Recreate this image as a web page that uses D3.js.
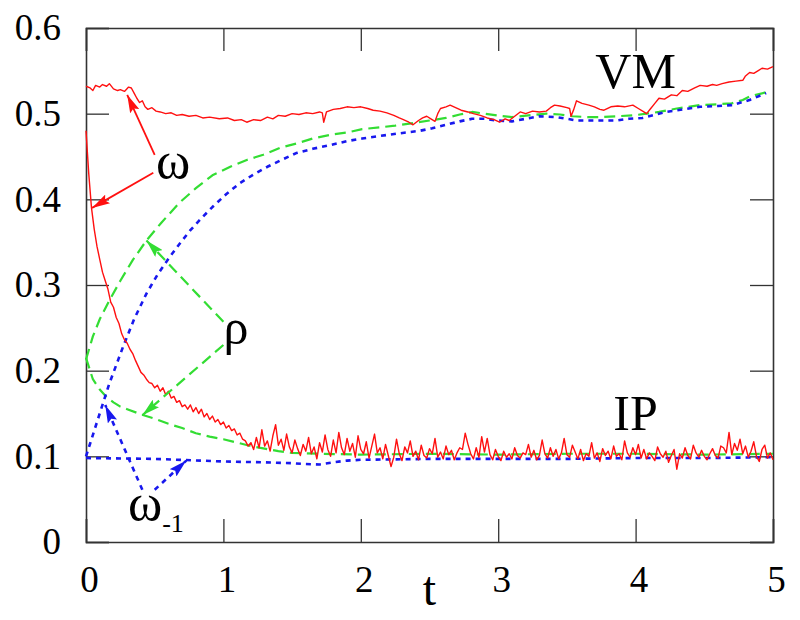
<!DOCTYPE html>
<html><head><meta charset="utf-8">
<script src="https://cdn.jsdelivr.net/npm/d3@7"></script>
<style>body{margin:0;background:#fff}svg{display:block}</style>
</head><body><svg id="c" width="800" height="620"></svg>
<script>
// ---------- data ----------
const xTicks = [0,1,2,3,4,5];
const yTicks = [0,0.1,0.2,0.3,0.4,0.5,0.6];
const yTickLabels = ["0","0.1","0.2","0.3","0.4","0.5","0.6"];

// VM: omega (red, noisy)
const vmOmegaT = [0.00,0.03,0.05,0.07,0.10,0.12,0.15,0.17,0.20,0.23,0.25,0.28,0.31,0.33,0.35,0.37,0.39,0.41,0.43,0.45,0.48,0.51,0.54,0.58,0.62,0.66,0.70,0.75,0.80,0.85,0.90,0.97,1.03,1.08,1.13,1.17,1.22,1.27,1.32,1.36,1.40,1.45,1.50,1.55,1.60,1.65,1.70,1.72,1.73,1.75,1.80,1.85,1.90,1.95,2.00,2.05,2.09,2.14,2.19,2.24,2.28,2.31,2.35,2.38,2.42,2.45,2.48,2.51,2.54,2.56,2.58,2.62,2.65,2.69,2.73,2.78,2.82,2.87,2.92,2.97,3.01,3.05,3.08,3.12,3.16,3.20,3.25,3.30,3.35,3.38,3.41,3.45,3.50,3.52,3.53,3.55,3.57,3.61,3.66,3.70,3.74,3.77,3.82,3.87,3.92,3.98,4.02,4.06,4.08,4.11,4.14,4.17,4.21,4.26,4.30,4.34,4.38,4.43,4.47,4.52,4.56,4.59,4.63,4.68,4.73,4.78,4.80,4.83,4.86,4.89,4.92,4.96,5.00];
const vmOmega = [0.532,0.530,0.527,0.533,0.531,0.534,0.532,0.535,0.529,0.527,0.528,0.526,0.531,0.530,0.524,0.518,0.513,0.515,0.508,0.505,0.507,0.503,0.502,0.500,0.501,0.498,0.499,0.497,0.498,0.495,0.496,0.494,0.495,0.492,0.493,0.490,0.493,0.492,0.496,0.494,0.498,0.497,0.500,0.499,0.501,0.500,0.502,0.501,0.490,0.502,0.505,0.506,0.508,0.507,0.508,0.506,0.504,0.503,0.501,0.498,0.495,0.493,0.490,0.487,0.492,0.495,0.497,0.494,0.491,0.500,0.506,0.508,0.510,0.507,0.504,0.502,0.500,0.498,0.495,0.493,0.490,0.494,0.492,0.497,0.502,0.500,0.503,0.502,0.503,0.507,0.510,0.509,0.507,0.506,0.497,0.505,0.515,0.512,0.510,0.508,0.505,0.504,0.508,0.509,0.508,0.510,0.506,0.502,0.500,0.506,0.512,0.518,0.517,0.522,0.521,0.527,0.526,0.530,0.533,0.532,0.534,0.533,0.535,0.537,0.538,0.539,0.544,0.548,0.547,0.550,0.553,0.552,0.555];

// VM: rho (green dashed)
const vmRhoT = [0,0.05,0.10,0.17,0.25,0.34,0.44,0.55,0.68,0.80,0.92,1.05,1.17,1.29,1.41,1.55,1.65,1.80,1.90,2.01,2.14,2.25,2.38,2.50,2.62,2.72,2.81,2.90,2.99,3.10,3.22,3.35,3.45,3.54,3.65,3.74,3.86,3.98,4.08,4.17,4.30,4.47,4.60,4.70,4.78,4.83,4.95];
const vmRho = [0.213,0.240,0.260,0.282,0.305,0.329,0.352,0.373,0.396,0.413,0.428,0.438,0.446,0.452,0.460,0.466,0.471,0.476,0.478,0.482,0.484,0.486,0.489,0.492,0.495,0.499,0.502,0.500,0.498,0.496,0.498,0.500,0.499,0.497,0.496,0.496,0.497,0.498,0.500,0.502,0.506,0.510,0.511,0.512,0.516,0.520,0.525];

// VM: omega_-1 (blue dotted)
const vmOmM1T = [0,0.03,0.10,0.17,0.27,0.35,0.44,0.52,0.61,0.70,0.76,0.84,0.92,1.02,1.12,1.22,1.32,1.41,1.53,1.65,1.77,1.90,2.01,2.14,2.28,2.43,2.52,2.62,2.72,2.81,2.90,2.99,3.10,3.20,3.30,3.42,3.50,3.57,3.70,3.86,3.95,4.05,4.15,4.22,4.35,4.47,4.60,4.70,4.83,4.95];
const vmOmM1 = [0.100,0.115,0.150,0.185,0.228,0.260,0.290,0.312,0.333,0.352,0.364,0.378,0.391,0.406,0.419,0.429,0.438,0.445,0.454,0.459,0.463,0.468,0.471,0.474,0.477,0.480,0.483,0.487,0.491,0.494,0.494,0.492,0.491,0.494,0.497,0.496,0.494,0.492,0.492,0.492,0.494,0.495,0.499,0.502,0.505,0.508,0.509,0.510,0.516,0.524];

// IP: omega (red, noisy) on a 0.02 grid in t
const ipOmegaStep = 0.02;
const ipOmega = [
0.480,0.430,0.390,0.365,0.345,0.330,0.315,0.305,0.295,0.280,
0.274,0.262,0.255,0.243,0.236,0.232,0.225,0.220,0.212,0.205,
0.198,0.195,0.190,0.186,0.185,0.180,0.183,0.176,0.180,0.172,
0.176,0.168,0.170,0.163,0.165,0.158,0.160,0.155,0.160,0.152,
0.157,0.150,0.155,0.146,0.150,0.143,0.147,0.140,0.143,0.137,
0.140,0.133,0.136,0.130,0.132,0.125,0.127,0.120,0.118,0.112,
0.116,0.108,0.122,0.110,0.131,0.112,0.118,0.106,0.124,0.137,
0.113,0.120,0.107,0.126,0.111,0.104,0.119,0.109,0.101,0.114,
0.106,0.122,0.103,0.111,0.097,0.116,0.105,0.125,0.108,0.100,
0.119,0.104,0.128,0.110,0.102,0.121,0.106,0.115,0.099,0.124,
0.108,0.103,0.117,0.098,0.112,0.126,0.104,0.110,0.097,0.114,
0.101,0.088,0.099,0.120,0.103,0.095,0.111,0.104,0.118,0.100,
0.106,0.096,0.113,0.101,0.098,0.109,0.103,0.121,0.099,0.105,
0.097,0.112,0.102,0.107,0.096,0.104,0.110,0.108,0.127,0.114,
0.103,0.097,0.110,0.099,0.123,0.105,0.121,0.102,0.096,0.108,
0.100,0.095,0.106,0.099,0.103,0.097,0.110,0.101,0.098,0.104,
0.102,0.114,0.099,0.107,0.096,0.101,0.119,0.103,0.098,0.110,
0.100,0.108,0.097,0.104,0.121,0.102,0.099,0.113,0.105,0.097,
0.108,0.095,0.103,0.100,0.116,0.098,0.104,0.094,0.109,0.101,
0.106,0.097,0.112,0.100,0.103,0.096,0.118,0.104,0.099,0.110,
0.102,0.114,0.098,0.108,0.097,0.104,0.100,0.095,0.111,0.103,
0.099,0.106,0.093,0.101,0.108,0.085,0.103,0.098,0.110,0.101,
0.097,0.113,0.104,0.099,0.107,0.100,0.096,0.103,0.109,0.101,
0.098,0.112,0.110,0.104,0.128,0.102,0.115,0.107,0.120,0.103,
0.112,0.099,0.106,0.117,0.100,0.094,0.108,0.113,0.098,0.104,
0.096];

// IP: rho (green dashed)
const ipRhoT = [0,0.05,0.10,0.15,0.20,0.25,0.30,0.40,0.50,0.60,0.70,0.80,0.90,1.00,1.10,1.20,1.30,1.40,1.50,1.70,2.00,2.50,3.00,3.50,4.00,4.50,5.00];
const ipRho = [0.215,0.190,0.178,0.169,0.163,0.158,0.155,0.149,0.144,0.138,0.133,0.127,0.123,0.120,0.116,0.112,0.109,0.106,0.104,0.103,0.102,0.103,0.102,0.103,0.103,0.102,0.103];

// IP: omega_-1 (blue dotted)
const ipOmM1T = [0,0.5,1.0,1.3,1.5,1.6,1.7,1.8,1.9,2.0,2.5,3.0,3.5,4.0,4.5,5.0];
const ipOmM1 = [0.098,0.097,0.094,0.093,0.092,0.091,0.0905,0.093,0.095,0.096,0.097,0.097,0.097,0.098,0.098,0.099];

// annotation arrows [tFrom, vFrom, tTo, vTo]
const omegaArrows = [[0.50,0.452,0.30,0.522],[0.49,0.431,0.044,0.390]];
const rhoArrows = [[1.00,0.257,0.44,0.352],[1.00,0.230,0.41,0.148]];
const omM1Arrows = [[0.41,0.061,0.14,0.160],[0.50,0.061,0.73,0.095]];

// ---------- chart ----------
const svg = d3.select("#c");
const font = "'Liberation Serif','Times New Roman',serif";
const RED = "#ff1010", GREEN = "#33dd33", BLUE = "#1818ee";
const xS = d3.scaleLinear().domain([0,5]).range([86,773]);
const yS = d3.scaleLinear().domain([0,0.6]).range([542,28]);

// markers
const defs = svg.append("defs");
[["aR",RED],["aG",GREEN],["aB",BLUE]].forEach(([id,c])=>{
  defs.append("marker").attr("id",id).attr("markerUnits","userSpaceOnUse")
    .attr("viewBox","0 0 18 10").attr("refX",18).attr("refY",5)
    .attr("markerWidth",18).attr("markerHeight",10).attr("orient","auto")
    .append("path").attr("d","M0,0 L18,5 L0,10 L3,5 Z").attr("fill",c);
});

// axes
const tickLen = 23;
const axG = svg.append("g");
const axBottom = axG.append("g").attr("transform",`translate(0,${yS(0)})`)
  .call(d3.axisBottom(xS).tickValues(xTicks).tickSize(-tickLen).tickPadding(24).tickFormat(d3.format("d")));
const axLeft = axG.append("g").attr("transform",`translate(${xS(0)},0)`)
  .call(d3.axisLeft(yS).tickValues(yTicks).tickSize(-tickLen).tickPadding(25).tickFormat((d,i)=>yTickLabels[i]));
const axTop = axG.append("g").attr("transform",`translate(0,${yS(0.6)})`)
  .call(d3.axisTop(xS).tickValues(xTicks).tickSize(-tickLen).tickFormat(""));
const axRight = axG.append("g").attr("transform",`translate(${xS(5)},0)`)
  .call(d3.axisRight(yS).tickValues(yTicks).tickSize(-tickLen).tickFormat(""));
[axBottom,axLeft,axTop,axRight].forEach(g=>{
  g.attr("font-family",font).attr("font-size",37);
  g.select(".domain").attr("stroke","#333").attr("stroke-width",1.6);
  g.selectAll(".tick line").attr("stroke","#333").attr("stroke-width",1.3);
  g.selectAll(".tick text").attr("fill","#000");
});
axBottom.selectAll(".tick text").attr("dx",3);

// lines
const line = d3.line().x(d=>xS(d[0])).y(d=>yS(d[1]));
const zip = (ts,vs)=>vs.map((v,i)=>[ts[i],v]);
const plot = svg.append("g");
function draw(data,color,w,dash){
  plot.append("path").datum(data).attr("d",line).attr("fill","none")
    .attr("stroke",color).attr("stroke-width",w).attr("stroke-dasharray",dash||null)
    .attr("stroke-linejoin","round");
}
draw(zip(ipRhoT,ipRho),GREEN,2.2,"11,6");
draw(zip(vmRhoT,vmRho),GREEN,2.2,"11,6");
draw(zip(ipOmM1T,ipOmM1),BLUE,2.6,"5,5");
draw(zip(vmOmM1T,vmOmM1),BLUE,2.6,"5,5");
draw(zip(vmOmegaT,vmOmega),RED,1.4);
draw(ipOmega.map((v,i)=>[i*ipOmegaStep,v]),RED,1.4);

// arrows
function arrows(list,color,marker,w,dash){
  plot.selectAll(null).data(list).enter().append("line")
    .attr("x1",d=>xS(d[0])).attr("y1",d=>yS(d[1])).attr("x2",d=>xS(d[2])).attr("y2",d=>yS(d[3]))
    .attr("stroke",color).attr("stroke-width",w).attr("stroke-dasharray",dash||null)
    .attr("marker-end",`url(#${marker})`);
}
arrows(omegaArrows,RED,"aR",1.8);
arrows(rhoArrows,GREEN,"aG",2.2,"11,6");
arrows(omM1Arrows,BLUE,"aB",2.6,"5,5");

// labels
const lab = svg.append("g").attr("font-family",font).attr("fill","#000");
lab.append("text").attr("x",xS(4.0)).attr("y",yS(0.53)).attr("text-anchor","middle").attr("font-size",50).text("VM");
lab.append("text").attr("x",xS(4.0)).attr("y",yS(0.131)).attr("text-anchor","middle").attr("font-size",50).text("IP");
lab.append("text").attr("x",xS(0.51)).attr("y",yS(0.425)).attr("font-size",52).text("ω");
lab.append("text").attr("x",xS(1.0)).attr("y",yS(0.231)).attr("font-size",50).text("ρ");
const om1 = lab.append("text").attr("x",xS(0.305)).attr("y",yS(0.026)).attr("font-size",52);
om1.append("tspan").text("ω");
om1.append("tspan").attr("font-size",26).attr("dy",12).text("-1");
lab.append("text").attr("x",xS(2.5)).attr("y",605).attr("text-anchor","middle").attr("font-size",48).text("t");
</script></body></html>
